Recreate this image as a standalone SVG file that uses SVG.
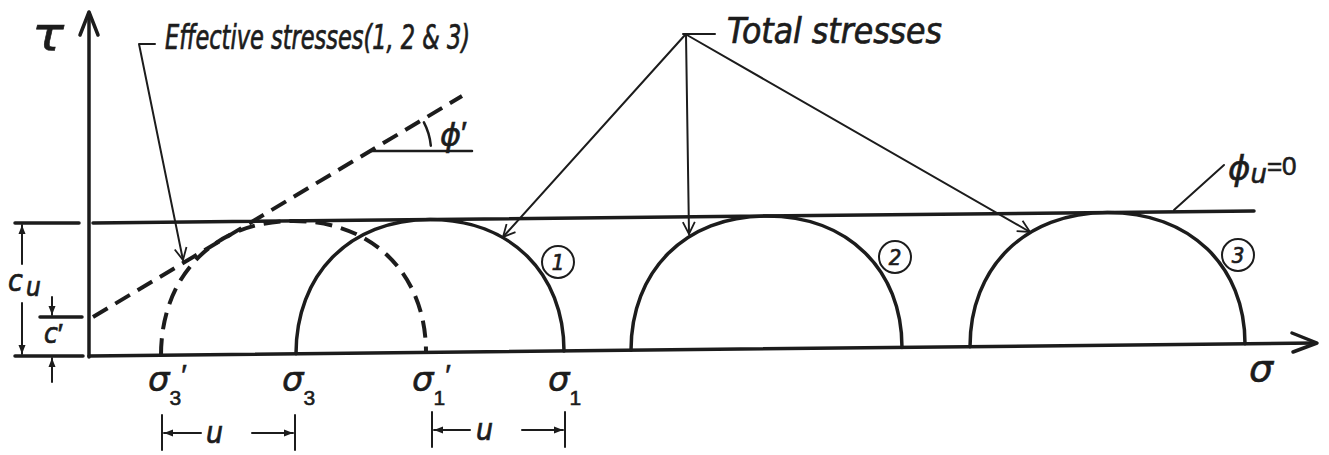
<svg xmlns="http://www.w3.org/2000/svg" width="1329" height="455" viewBox="0 0 1329 455">
<style>
.ln{stroke:#1c1c1c;fill:none;stroke-linecap:round;stroke-linejoin:round}
.thick{stroke-width:3.5}
.thin{stroke-width:2}
.dash{stroke-width:4;stroke-dasharray:17 9;stroke-linecap:butt}
.t{font-family:"DejaVu Sans Condensed","DejaVu Sans","Liberation Sans",sans-serif;font-style:italic;fill:#1c1c1c;stroke:#1c1c1c;stroke-width:0.7}
.g{font-family:"DejaVu Sans","Liberation Sans",sans-serif;font-style:italic;fill:#1c1c1c;stroke:#1c1c1c;stroke-width:0.6}
.p{font-family:"Liberation Sans","DejaVu Sans",sans-serif;font-style:normal}
</style>
<defs>
<marker id="av" markerUnits="userSpaceOnUse" markerWidth="16" markerHeight="14" refX="13" refY="7" orient="auto">
<path d="M1,1 L13,7 L1,13" fill="none" stroke="#1c1c1c" stroke-width="1.8"/>
</marker>
<marker id="af" markerUnits="userSpaceOnUse" markerWidth="10" markerHeight="8" refX="9" refY="4" orient="auto">
<path d="M0,0.5 L9,4 L0,7.5 Z" fill="#1c1c1c"/>
</marker>
</defs>
<rect width="1329" height="455" fill="#ffffff"/>

<g id="axes">
<line class="ln thick" x1="89" y1="357" x2="89" y2="13"/>
<polyline class="ln thick" points="80,35 89,12 98,35"/>
<line class="ln thick" x1="89" y1="356" x2="1315" y2="343"/>
<polyline class="ln thick" points="1292,333 1317,343 1293,352"/>
<text class="g" x="32" y="50" font-size="46" textLength="32" lengthAdjust="spacingAndGlyphs">τ</text>
<text class="g" x="1249" y="381" font-size="38">σ</text>
</g>

<g id="total-envelope">
<line class="ln thick" x1="93" y1="223" x2="1254" y2="211"/>
</g>

<g id="effective-envelope">
<line class="ln dash" x1="93" y1="317" x2="462" y2="96"/>
<line class="ln" stroke-width="2.5" x1="370" y1="151" x2="472" y2="151"/>
<path class="ln" stroke-width="2.5" d="M430.8 145.7 A61 61 0 0 0 423.9 122.4"/>
<text class="g" x="440" y="146" font-size="32">ϕ<tspan class="p" font-size="32" dy="-2">′</tspan></text>
</g>

<g id="circle-effective">
<path class="ln dash" d="M161 355.2 C161 276.4 213.6 220.9 293.5 220.9 C373.4 220.9 426 275 426 352.4"/>
</g>

<g id="circle-1">
<path class="ln thick" d="M296 353.8 C296 275 349.2 219.5 430 219.5 C510.8 219.5 564 273.6 564 351"/>
<circle class="ln" stroke-width="2" cx="558" cy="262" r="16"/>
<text class="t" x="558" y="270" font-size="22" text-anchor="middle" stroke-width="0.5">1</text>
</g>

<g id="circle-2">
<path class="ln thick" d="M631 350.3 C631 271.5 684.8 216 766.5 216 C848.2 216 902 270 902 347.4"/>
<circle class="ln" stroke-width="2" cx="895" cy="257" r="16"/>
<text class="t" x="895" y="265" font-size="22" text-anchor="middle" stroke-width="0.5">2</text>
</g>

<g id="circle-3">
<path class="ln thick" d="M970 346.7 C970 267.9 1024.5 212.4 1107.5 212.4 C1190.5 212.4 1245 266.4 1245 343.8"/>
<circle class="ln" stroke-width="2" cx="1238" cy="255" r="16"/>
<text class="t" x="1238" y="263" font-size="22" text-anchor="middle" stroke-width="0.5">3</text>
</g>

<g id="label-effective">
<text class="t" x="165" y="49" font-size="33" textLength="305" lengthAdjust="spacingAndGlyphs">Effective stresses(1, 2 &amp; 3)</text>
</g>

<g id="label-total">
<text class="t" x="727" y="43" font-size="35" textLength="215" lengthAdjust="spacingAndGlyphs">Total stresses</text>
</g>

<g id="label-phiu">
<text class="g" x="1228" y="180" font-size="34">ϕ<tspan font-size="26" dy="3">u</tspan><tspan class="p" font-size="26" dy="-8">=0</tspan></text>
</g>

<g id="cu-dimension">
<line class="ln thick" x1="15" y1="223" x2="79" y2="223"/>
<line class="ln thick" x1="15" y1="356" x2="83" y2="356"/>
<line class="ln thick" x1="40" y1="317" x2="82" y2="317"/>
<line class="ln thin" x1="22" y1="264" x2="22" y2="225" marker-end="url(#af)"/>
<line class="ln thin" x1="22" y1="303" x2="22" y2="354" marker-end="url(#af)"/>
<text class="t" x="8" y="291" font-size="30">c</text>
<text class="t" x="26" y="296" font-size="26">u</text>
<line class="ln thin" x1="52" y1="297" x2="52" y2="315" marker-end="url(#af)"/>
<line class="ln thin" x1="52" y1="382" x2="52" y2="358" marker-end="url(#af)"/>
<text class="t" x="44" y="343" font-size="28">c<tspan class="p" font-size="28">′</tspan></text>
</g>

<g id="sigma-labels">
<text class="g" x="148" y="391" font-size="34">σ<tspan class="p" font-size="21" dy="14">3</tspan><tspan class="p" font-size="30" dy="-20">′</tspan></text>
<text class="g" x="282" y="391" font-size="34">σ<tspan class="p" font-size="21" dy="14">3</tspan></text>
<text class="g" x="412" y="391" font-size="34">σ<tspan class="p" font-size="21" dy="14">1</tspan><tspan class="p" font-size="30" dy="-20">′</tspan></text>
<text class="g" x="548" y="391" font-size="34">σ<tspan class="p" font-size="21" dy="14">1</tspan></text>
</g>

<g id="u-dimension-1">
<line class="ln thin" x1="162" y1="415" x2="162" y2="450"/>
<line class="ln thin" x1="295" y1="415" x2="295" y2="450"/>
<line class="ln thin" x1="201" y1="433" x2="164" y2="433" marker-end="url(#af)"/>
<line class="ln thin" x1="252" y1="433" x2="293" y2="433" marker-end="url(#af)"/>
<text class="t" x="206" y="443" font-size="30">u</text>
</g>

<g id="u-dimension-2">
<line class="ln thin" x1="432" y1="412" x2="432" y2="447"/>
<line class="ln thin" x1="565" y1="412" x2="565" y2="447"/>
<line class="ln thin" x1="470" y1="430" x2="434" y2="430" marker-end="url(#af)"/>
<line class="ln thin" x1="522" y1="430" x2="563" y2="430" marker-end="url(#af)"/>
<text class="t" x="476" y="440" font-size="30">u</text>
</g>

<g id="connectors">
<polyline class="ln thin" points="155,44 139,44 183,260" marker-end="url(#av)"/>
<line class="ln thin" x1="683" y1="34" x2="715" y2="34"/>
<line class="ln thin" x1="685" y1="35" x2="503" y2="237" marker-end="url(#av)"/>
<line class="ln thin" x1="686" y1="35" x2="689" y2="234" marker-end="url(#av)"/>
<line class="ln thin" x1="687" y1="35" x2="1030" y2="232" marker-end="url(#av)"/>
<line class="ln thin" x1="1224" y1="165" x2="1174" y2="210"/>
</g>
</svg>
